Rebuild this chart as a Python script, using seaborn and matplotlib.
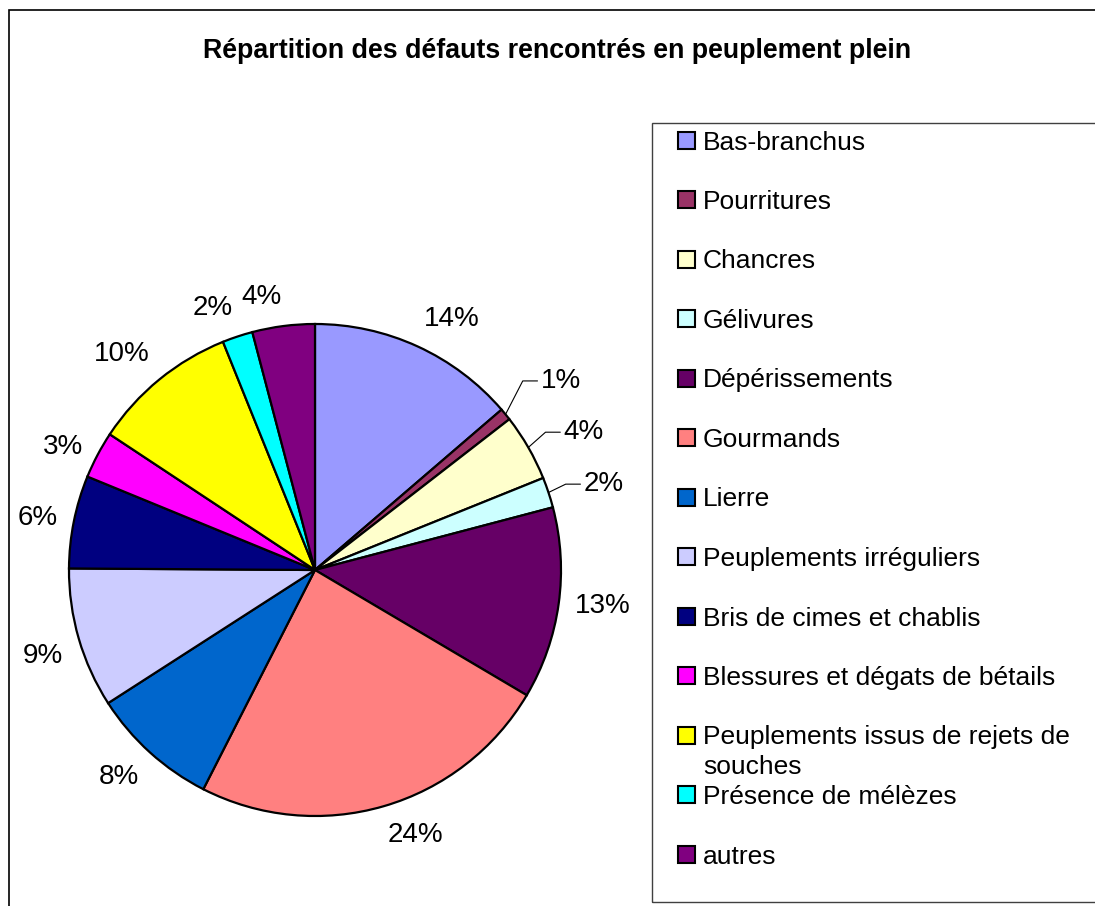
import numpy as np
import matplotlib
matplotlib.use("Agg")
import matplotlib.pyplot as plt
from matplotlib.patches import Rectangle
import seaborn as sns

categories = ["Bas-branchus", "Pourritures", "Chancres", "Gélivures", "Dépérissements",
              "Gourmands", "Lierre", "Peuplements irréguliers", "Bris de cimes et chablis",
              "Blessures et dégats de bétails", "Peuplements issus de rejets de\nsouches",
              "Présence de mélèzes", "autres"]
values = [13.7, 0.8, 4.4, 2.0, 12.6, 24.0, 8.4, 9.2, 6.1, 3.1, 9.6, 2.0, 4.1]
colors = ["#9999FF", "#993366", "#FFFFCC", "#CCFFFF", "#660066", "#FF8080", "#0066CC",
          "#CCCCFF", "#000080", "#FF00FF", "#FFFF00", "#00FFFF", "#800080"]
title = "Répartition des défauts rencontrés en peuplement plein"

sns.set_theme(style="white")
plt.rcParams["font.family"] = ["Liberation Sans", "DejaVu Sans"]
plt.rcParams["text.color"] = "black"

W, H = 1095, 906
fig = plt.figure(figsize=(W / 100, H / 100), dpi=100)
fig.patch.set_facecolor("white")

# pie axes (pixel mapping)
cx, cy, R = 315, 570, 246
ax_l, ax_r, ax_t, ax_b = 0, 645, 100, 906
ax = fig.add_axes([ax_l / W, 1 - ax_b / H, (ax_r - ax_l) / W, (ax_b - ax_t) / H])
palette = sns.color_palette(colors)
wedges, _ = ax.pie(values, colors=palette, startangle=90, counterclock=False,
                   wedgeprops=dict(edgecolor="black", linewidth=1.6))
ax.set_xlim((ax_l - cx) / R, (ax_r - cx) / R)
ax.set_ylim((cy - ax_b) / R, (cy - ax_t) / R)
ax.set_aspect("auto")
ax.axis("off")

total = sum(values)
leader_rise = {1: 0.136, 2: 0.062, 3: 0.034}
PFS = 20
FS = 19
for i, w in enumerate(wedges):
    th = np.deg2rad((w.theta1 + w.theta2) / 2)
    c, s = np.cos(th), np.sin(th)
    txt = f"{values[i] / total * 100:.0f}%"
    if i in leader_rise:
        ly = s + leader_rise[i]
        kx = c + 0.07
        hx = kx + 0.06
        ax.plot([c, kx, hx], [s, ly, ly], color="black", lw=0.8)
        ax.text(hx + 0.012, ly, txt, ha="left", va="center", fontsize=PFS)
    else:
        r = 1.065
        if abs(s) < 0.25 or i == 9:
            va = "center"
        else:
            va = "bottom" if s > 0 else "top"
        ax.text(r * c, r * s, txt, ha="left" if c > 0 else "right",
                va=va, fontsize=PFS)

# title
fig.text(557 / W, 1 - 51 / H, title, ha="center", va="center", fontsize=19.3,
         fontweight="bold")

# chart border
fig.patches.append(Rectangle((9 / W, -0.05), 1.2, (H - 10) / H + 0.05,
                             transform=fig.transFigure, fill=False,
                             edgecolor="black", lw=1.2))
# legend box
fig.patches.append(Rectangle((652 / W, 1 - 902 / H), 1.0, (902 - 123) / H,
                             transform=fig.transFigure, fill=False,
                             edgecolor="#404040", lw=1.0))

for i, cat in enumerate(categories):
    yp = 140 + i * 59.5
    fig.patches.append(Rectangle((678 / W, 1 - (yp + 8.5) / H), 17 / W, 17 / H,
                                 transform=fig.transFigure, facecolor=palette[i],
                                 edgecolor="black", lw=1.5))
    nlines = cat.count("\n")
    fig.text(703 / W, 1 - (yp + 9.5 + 30 * nlines) / H, cat, ha="left",
             va="baseline", fontsize=FS, linespacing=1.32)

fig.savefig("out.png", dpi=100, facecolor="white")
